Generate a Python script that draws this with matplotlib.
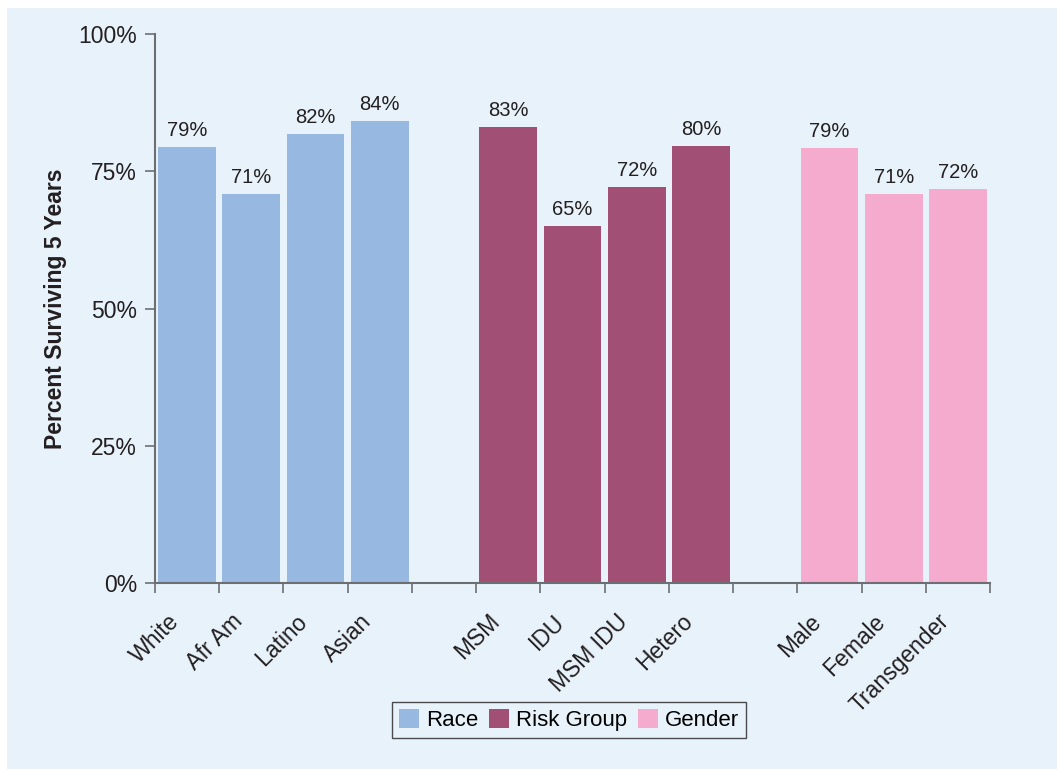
import matplotlib.pyplot as plt
from matplotlib.patches import Rectangle, Patch
from matplotlib.transforms import ScaledTranslation
import numpy as np

plt.rcParams['font.family'] = ['Liberation Sans', 'DejaVu Sans']

# Daten
race_labels = ['White', 'Afr Am', 'Latino', 'Asian']
race_values = [79.4, 70.9, 81.8, 84.2]
risk_labels = ['MSM', 'IDU', 'MSM IDU', 'Hetero']
risk_values = [83.1, 65.0, 72.1, 79.6]
gender_labels = ['Male', 'Female', 'Transgender']
gender_values = [79.2, 70.9, 71.8]
race_text = ['79%', '71%', '82%', '84%']
risk_text = ['83%', '65%', '72%', '80%']
gender_text = ['79%', '71%', '72%']

bg = '#E8F2FB'
colors = {'Race': '#97B8E0', 'Risk Group': '#A14F74', 'Gender': '#F5ABCE'}

fig = plt.figure(figsize=(10.57, 7.69), dpi=100)
fig.patch.set_facecolor('white')
panel = Rectangle((7 / 1057, 0), 1, (769 - 8) / 769, transform=fig.transFigure,
                  facecolor=bg, edgecolor='none', zorder=-10)
fig.add_artist(panel)

ax = fig.add_axes([155 / 1057, (769 - 583) / 769, (990 - 155) / 1057, (583 - 34) / 769])
ax.set_facecolor(bg)

# Positionen: 4 + Lücke + 4 + Lücke + 3
pos_race = np.arange(4)
pos_risk = np.arange(5, 9)
pos_gender = np.arange(10, 13)

groups = [(pos_race, race_values, race_text, 'Race'),
          (pos_risk, risk_values, risk_text, 'Risk Group'),
          (pos_gender, gender_values, gender_text, 'Gender')]
for pos, vals, txt, name in groups:
    bars = ax.bar(pos, vals, width=0.9, color=colors[name], zorder=2)
    for b, t in zip(bars, txt):
        ax.annotate(t, (b.get_x() + b.get_width() / 2, b.get_height()),
                    xytext=(0, 5), textcoords='offset points',
                    ha='center', va='bottom', fontsize=14.5, color='#231F20')

ax.set_xlim(-0.5, 12.5)
ax.set_ylim(0, 100)
ax.set_yticks([0, 25, 50, 75, 100])
ax.set_yticklabels(['0%', '25%', '50%', '75%', '100%'], fontsize=16.5, color='#231F20')
ax.set_ylabel('Percent Surviving 5 Years', fontsize=16.5, fontweight='bold', labelpad=8, color='#231F20')

# Trennstriche zwischen den Balken, Beschriftung schräg unter der Mitte
ax.set_xticks(np.arange(-0.5, 13, 1))
ax.set_xticklabels([])
all_pos = list(pos_race) + list(pos_risk) + list(pos_gender)
all_labels = race_labels + risk_labels + gender_labels
lab_trans = ax.get_xaxis_transform() + ScaledTranslation(-20 / 100, -27 / 100, fig.dpi_scale_trans)
for p, lab in zip(all_pos, all_labels):
    ax.text(p, 0, lab, transform=lab_trans, rotation=45, ha='right', va='top',
            rotation_mode='anchor', fontsize=16.5, color='#231F20', clip_on=False)
ax.tick_params(axis='x', which='major', length=7, width=1.2, color='#6D6E71', direction='out')
ax.tick_params(axis='y', length=7, width=1.2, color='#6D6E71', pad=6)

for s in ['top', 'right']:
    ax.spines[s].set_visible(False)
for s in ['left', 'bottom']:
    ax.spines[s].set_color('#6D6E71')
    ax.spines[s].set_linewidth(1.5)

handles = [Patch(facecolor=colors[k], edgecolor='none') for k in colors]
leg = fig.legend(handles, list(colors.keys()), loc='center', bbox_to_anchor=(569 / 1057, 1 - 720 / 769),
                 ncol=3, fontsize=16, frameon=True, fancybox=False, handlelength=0.9, handleheight=0.9,
                 handletextpad=0.3, columnspacing=0.5, borderpad=0.3, borderaxespad=0)
leg.get_frame().set_edgecolor('#231F20')
leg.get_frame().set_facecolor(bg)
leg.get_frame().set_linewidth(1.0)

fig.savefig('out.png', dpi=100, facecolor=fig.get_facecolor())
